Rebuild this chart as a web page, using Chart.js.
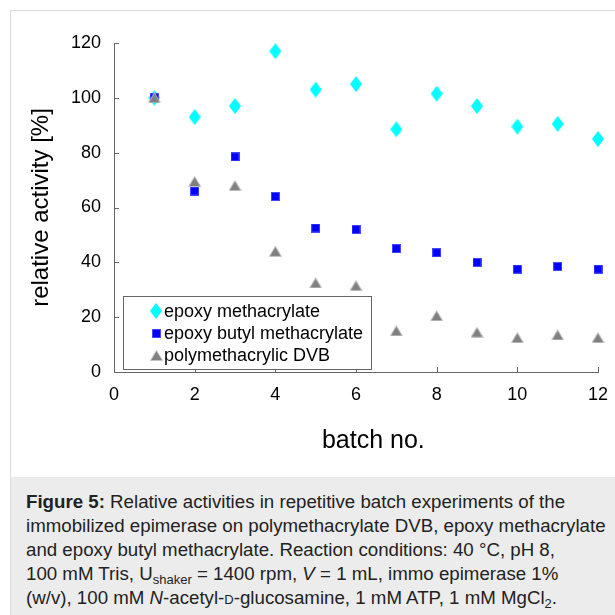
<!DOCTYPE html>
<html>
<head>
<meta charset="utf-8">
<script src="https://cdn.jsdelivr.net/npm/chart.js@4"></script>
<style>
  html, body { margin: 0; padding: 0; background: #fff; }
  body { width: 615px; height: 615px; position: relative; overflow: hidden; font-family: "Liberation Sans", Arial, sans-serif; }
  .frame { position: absolute; left: 10px; top: 10px; right: -5px; bottom: -5px; border-left: 1px solid #dcdcdc; border-top: 1px solid #dcdcdc; }
  .chartbox { position: absolute; left: 0; top: 0; width: 615px; height: 470px; }
  .legend { position: absolute; left: 123px; top: 296px; width: 247px; height: 69px; border: 1px solid #666; background: #fff; padding-top: 3px; box-sizing: content-box; }
  .legend .row { display: flex; align-items: center; height: 22px; font-size: 18px; color: #000; white-space: nowrap; }
  .legend .mk { width: 12px; margin-left: 26px; margin-right: 2px; display: flex; justify-content: center; }
  .caption { position: absolute; left: 11px; top: 477px; right: 0; bottom: 0; background: #ececec; padding: 13px 0 0 15px; font-size: 18.7px; line-height: 24px; color: #222; white-space: nowrap; }
  .caption sub { font-size: 13px; line-height: 0; vertical-align: -4px; }
  .sc { font-variant: small-caps; }
</style>
</head>
<body>
<div class="frame"></div>
<div class="chartbox"><canvas id="chartone"></canvas></div>
<div class="legend" id="legend"></div>
<div class="caption">
<b>Figure 5:</b> Relative activities in repetitive batch experiments of the<br>
immobilized epimerase on polymethacrylate DVB, epoxy methacrylate<br>
and epoxy butyl methacrylate. Reaction conditions: 40&nbsp;°C, pH 8,<br>
100 mM Tris, U<sub>shaker</sub> = 1400 rpm, <i>V</i> = 1 mL, immo epimerase 1%<br>
(w/v), 100 mM <i>N</i>-acetyl-<span class="sc">d</span>-glucosamine, 1 mM ATP, 1 mM MgCl<sub>2</sub>.
</div>
<script>
const batches = [1, 2, 3, 4, 5, 6, 7, 8, 9, 10, 11, 12];
const epoxyMethacrylate = [100, 93, 97, 117, 103, 105, 88.5, 101.5, 97, 89.5, 90.5, 85];
const epoxyButylMethacrylate = [100, 66, 78.5, 64, 52.5, 52, 45, 43.5, 40, 37.5, 38.5, 37.5];
const polymethacrylicDVB = [100, 69.5, 68, 44, 32.5, 31.5, 15, 20.5, 14.5, 12.5, 13.5, 12.5];
const seriesLabels = ['epoxy methacrylate', 'epoxy butyl methacrylate', 'polymethacrylic DVB'];
const xTicks = [0, 2, 4, 6, 8, 10, 12];
const yTicks = [0, 20, 40, 60, 80, 100, 120];

const fontName = '"Liberation Sans", Arial, sans-serif';
const axisColor = '#666';

// marker shapes drawn once into small canvases
function makeMarker(kind) {
  const c = document.createElement('canvas');
  let w, h;
  if (kind === 'diamond') { w = 12; h = 16; }
  else if (kind === 'square') { w = 9; h = 9; }
  else { w = 13; h = 11; }
  c.width = w; c.height = h;
  const g = c.getContext('2d');
  g.beginPath();
  if (kind === 'diamond') {
    g.moveTo(w / 2, 0); g.lineTo(w, h / 2); g.lineTo(w / 2, h); g.lineTo(0, h / 2);
    g.closePath(); g.fillStyle = '#00ffff'; g.fill();
  } else if (kind === 'square') {
    g.rect(0, 0, w, h); g.fillStyle = '#0000ff'; g.fill();
    g.strokeStyle = 'rgba(120,120,255,0.6)'; g.lineWidth = 1; g.strokeRect(0.5, 0.5, w - 1, h - 1);
  } else {
    g.moveTo(w / 2, 0.5); g.lineTo(w - 0.5, h - 0.5); g.lineTo(0.5, h - 0.5);
    g.closePath(); g.fillStyle = '#808080'; g.fill();
    g.strokeStyle = '#c4c4c4'; g.lineWidth = 1; g.stroke();
  }
  return c;
}

const markerKinds = ['diamond', 'square', 'triangle'];
const seriesValues = [epoxyMethacrylate, epoxyButylMethacrylate, polymethacrylicDVB];

const datasets = seriesValues.map((vals, i) => ({
  label: seriesLabels[i],
  data: batches.map((b, j) => ({ x: b, y: vals[j] })),
  pointStyle: makeMarker(markerKinds[i]),
  showLine: false,
  clip: false,
  order: 2 - i,
}));

// inward tick marks on both axes
const innerTicks = {
  id: 'innerTicks',
  afterDatasetsDraw(chart) {
    const { ctx, scales: { x, y } } = chart;
    ctx.save();
    ctx.strokeStyle = axisColor;
    ctx.lineWidth = 1;
    ctx.beginPath();
    yTicks.forEach(v => {
      const py = Math.round(y.getPixelForValue(v)) + 0.5;
      ctx.moveTo(x.left, py); ctx.lineTo(x.left + 5, py);
    });
    xTicks.forEach(v => {
      const px = Math.round(x.getPixelForValue(v)) + 0.5;
      ctx.moveTo(px, y.bottom); ctx.lineTo(px, y.bottom - 5);
    });
    ctx.stroke();
    ctx.restore();
  }
};

const chart = new Chart(document.getElementById('chartone'), {
  type: 'scatter',
  data: { datasets },
  plugins: [innerTicks],
  options: {
    responsive: true,
    maintainAspectRatio: false,
    animation: false,
    layout: { padding: { left: 0, right: 17, top: 43, bottom: 0 } },
    plugins: { legend: { display: false }, tooltip: { enabled: false } },
    scales: {
      x: {
        type: 'linear', min: 0, max: 12,
        afterFit: s => { s.height = 98; s.paddingLeft = 0; s.paddingRight = 0; },
        afterBuildTicks: s => { s.ticks = xTicks.map(v => ({ value: v })); },
        grid: { display: false, drawTicks: false },
        border: { display: true, color: axisColor, width: 1 },
        ticks: { color: '#000', padding: 12, font: { family: fontName, size: 18 } },
        title: { display: true, text: '\u00a0\u00a0\u00a0\u00a0\u00a0batch no.', color: '#000', font: { family: fontName, size: 25, lineHeight: 1 }, padding: { top: 0, bottom: 16 } }
      },
      y: {
        type: 'linear', min: 0, max: 120,
        afterFit: s => { s.width = 114; s.paddingTop = 0; s.paddingBottom = 0; },
        afterBuildTicks: s => { s.ticks = yTicks.map(v => ({ value: v })); },
        grid: { display: false, drawTicks: false },
        border: { display: true, color: axisColor, width: 1 },
        ticks: { color: '#000', padding: 13, font: { family: fontName, size: 18 } },
        title: { display: true, text: 'relative activity [%]', color: '#000', font: { family: fontName, size: 24, lineHeight: 1 }, padding: { top: 29, bottom: 0 } }
      }
    }
  }
});

// legend box inside the plot, built from the datasets
const legendEl = document.getElementById('legend');
chart.data.datasets.forEach((ds, i) => {
  const row = document.createElement('div');
  row.className = 'row';
  const mk = document.createElement('span');
  mk.className = 'mk';
  mk.appendChild(makeMarker(markerKinds[i]));
  const txt = document.createElement('span');
  txt.textContent = ds.label;
  row.appendChild(mk);
  row.appendChild(txt);
  legendEl.appendChild(row);
});
</script>
</body>
</html>
